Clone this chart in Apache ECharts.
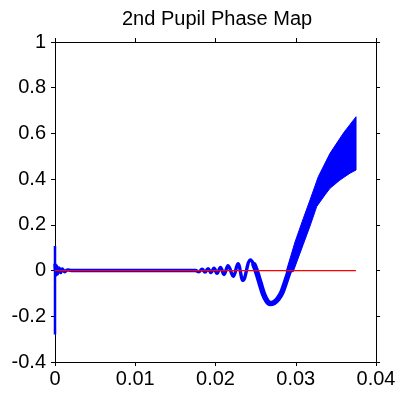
<!DOCTYPE html>
<html>
<head>
<meta charset="utf-8">
<script src="https://cdn.jsdelivr.net/npm/echarts@6/dist/echarts.min.js"></script>
<style>html,body{margin:0;padding:0;background:#fff}#c{width:399px;height:394px}</style>
</head>
<body>
<div id="c"></div>
<script>
// ---- data ----
var titleText = "2nd Pupil Phase Map";
var xTicks = [0, 0.01, 0.02, 0.03, 0.04];
var yTicks = [-0.4, -0.2, 0, 0.2, 0.4, 0.6, 0.8, 1];

// vertical spike at x = 0
var spike = [[0, 0.107], [0, -0.28]];

// centre line of the blue trace (flat part + growing oscillations up to the last peak)
var waveLine = [
  [0, 0.03], [0.0001, -0.02], [0.0002, 0.02], [0.0003, -0.015], [0.0005, 0.012],
  [0.0007, -0.009], [0.0009, 0.007], [0.0012, -0.005], [0.0016, 0.003], [0.002, 0],
  [0.005, 0.001], [0.01, 0.0], [0.015, 0.001], [0.0175, 0.0],
  [0.01794, -0.005], [0.01832, 0.006], [0.01869, -0.007], [0.01907, 0.008],
  [0.01944, -0.009], [0.01981, 0.010], [0.02019, -0.012], [0.02062, 0.014],
  [0.02106, -0.017], [0.02156, 0.021], [0.02222, -0.025], [0.02280, 0.030],
  [0.02343, -0.043], [0.02436, 0.047], [0.02474, 0.029], [0.02513, -0.006]
];

// centre line of the thicker stroke: descent, trough and start of the rise
var troughLine = [
  [0.02480, 0.025], [0.02513, -0.006], [0.02555, -0.054],
  [0.02598, -0.102], [0.02642, -0.133], [0.02679, -0.144], [0.02729, -0.140],
  [0.02779, -0.124], [0.02829, -0.094], [0.02866, -0.058], [0.02903, -0.019],
  [0.02935, 0.015]
];

// widening band on the rise: upper-left edge and lower-right edge
var bandUpper = [
  [0.02880, -0.005], [0.02991, 0.125], [0.03094, 0.228], [0.03178, 0.309],
  [0.03281, 0.411], [0.03427, 0.513], [0.03593, 0.601], [0.03751, 0.673]
];
var bandLower = [
  [0.02968, -0.005], [0.03094, 0.115], [0.03178, 0.195], [0.03261, 0.280],
  [0.03364, 0.331], [0.03427, 0.360], [0.03551, 0.396], [0.03676, 0.426],
  [0.03751, 0.440]
];

// red reference line
var redLine = [[0, 0], [0.0375, 0]];

// ---- chart ----
var FONT = "'Liberation Sans', Arial, sans-serif";
var chart = echarts.init(document.getElementById('c'), null, {renderer: 'canvas'});
var axisCommon = {
  type: 'value',
  axisLine: {show: true, onZero: false, lineStyle: {color: '#000', width: 1}},
  axisTick: {show: true, inside: false, length: 4, lineStyle: {color: '#000'}},
  splitLine: {show: false}
};
chart.setOption({
  animation: false,
  backgroundColor: '#fff',
  title: {
    text: titleText, left: 117, top: 4,
    textStyle: {fontFamily: FONT, fontSize: 20, fontWeight: 'normal', color: '#000'}
  },
  grid: {left: 55, right: 23, top: 42, bottom: 32, containLabel: false},
  xAxis: [
    Object.assign({}, axisCommon, {
      position: 'bottom', min: xTicks[0], max: xTicks[xTicks.length - 1], interval: 0.01,
      axisLabel: {fontFamily: FONT, fontSize: 20, color: '#000', margin: 7}
    }),
    Object.assign({}, axisCommon, {
      position: 'top', min: xTicks[0], max: xTicks[xTicks.length - 1], interval: 0.01,
      axisLabel: {show: false}
    })
  ],
  yAxis: [
    Object.assign({}, axisCommon, {
      position: 'left', min: yTicks[0], max: yTicks[yTicks.length - 1], interval: 0.2,
      axisLabel: {fontFamily: FONT, fontSize: 20, color: '#000', margin: 9}
    }),
    Object.assign({}, axisCommon, {
      position: 'right', min: yTicks[0], max: yTicks[yTicks.length - 1], interval: 0.2,
      axisLabel: {show: false}
    })
  ],
  series: [
    {
      type: 'custom', xAxisIndex: 0, yAxisIndex: 0, data: [0], silent: true, z: 2,
      renderItem: function (params, api) {
        var pts = [];
        for (var i = 0; i < bandUpper.length; i++) pts.push(api.coord(bandUpper[i]));
        for (var j = bandLower.length - 1; j >= 0; j--) pts.push(api.coord(bandLower[j]));
        return {type: 'polygon', shape: {points: pts}, style: {fill: '#0000ff', stroke: '#0000ff', lineWidth: 1}};
      }
    },
    {
      type: 'line', data: waveLine, showSymbol: false, smooth: 0.4, z: 2,
      lineStyle: {color: '#0000ff', width: 3.4}
    },
    {
      type: 'line', data: troughLine, showSymbol: false, smooth: 0.35, z: 2,
      lineStyle: {color: '#0000ff', width: 5.5, cap: 'round', join: 'round'}
    },
    {
      type: 'line', data: spike, showSymbol: false, z: 2,
      lineStyle: {color: '#0000ff', width: 2.5}
    },
    {
      type: 'line', data: redLine, showSymbol: false, z: 3,
      lineStyle: {color: '#ff0000', width: 1.2}
    }
  ]
});
</script>
</body>
</html>
